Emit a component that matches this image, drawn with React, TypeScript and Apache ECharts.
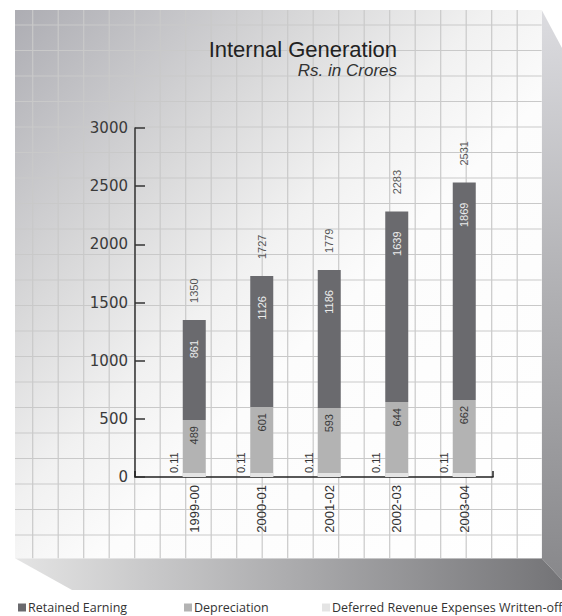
import React, { useEffect, useRef } from 'react';
import * as echarts from 'echarts';

const years = ['1999-00', '2000-01', '2001-02', '2002-03', '2003-04'];
const retainedEarning = [861, 1126, 1186, 1639, 1869];
const depreciation = [489, 601, 593, 644, 662];
const deferredRevenue = [0.11, 0.11, 0.11, 0.11, 0.11];
const totals = [1350, 1727, 1779, 2283, 2531];
const yMin = 0;
const yMax = 3000;
const yInterval = 500;

const SANS = 'Liberation Sans, Arial, sans-serif';

function buildBackground(): any[] {
  const els: any[] = [];
  const px = 15, py = 10, pw = 526.7, ph = 548.3;
  // right side face
  els.push({
    type: 'polygon', silent: true, z: -20,
    shape: { points: [[px + pw, py], [562, 48], [562, 580], [px + pw, py + ph]] },
    style: {
      fill: new echarts.graphic.LinearGradient(0, 0, 0, 1, [
        { offset: 0, color: '#dcdce0' },
        { offset: 0.5, color: '#b0b0b3' },
        { offset: 1, color: '#88888b' },
      ]),
    },
  });
  // bottom face
  els.push({
    type: 'polygon', silent: true, z: -20,
    shape: { points: [[px, py + ph], [px + pw, py + ph], [562, 580], [562, 590], [72, 590]] },
    style: {
      fill: new echarts.graphic.LinearGradient(0, 0, 1, 0, [
        { offset: 0, color: '#e4e4e4' },
        { offset: 0.5, color: '#acacae' },
        { offset: 1, color: '#747477' },
      ]),
    },
  });
  // front panel
  els.push({
    type: 'rect', silent: true, z: -19,
    shape: { x: px, y: py, width: pw, height: ph },
    style: {
      fill: new echarts.graphic.LinearGradient(0, 0, 1, 1, [
        { offset: 0, color: '#adadb3' },
        { offset: 0.28, color: '#d8d8d9' },
        { offset: 0.45, color: '#f1f1f1' },
        { offset: 0.58, color: '#fcfcfc' },
        { offset: 1, color: '#ffffff' },
      ]),
    },
  });
  const lineStyle = { stroke: '#c9c9c9', lineWidth: 1.2 };
  for (let k = 0; k < 20; k++) {
    const x = 32.7 + 25.5 * k;
    els.push({ type: 'line', silent: true, z: -18, shape: { x1: x, y1: py, x2: x, y2: py + ph }, style: lineStyle });
  }
  for (let k = 0; k < 21; k++) {
    const y = 25 + 25.5 * k;
    els.push({ type: 'line', silent: true, z: -18, shape: { x1: px, y1: y, x2: px + pw, y2: y }, style: lineStyle });
  }
  // titles
  els.push({
    type: 'text', z: 10, x: 397, y: 38,
    style: { text: 'Internal Generation', align: 'right', verticalAlign: 'top', fontFamily: SANS, fontSize: 22, lineHeight: 22, fill: '#222' },
  });
  els.push({
    type: 'text', z: 10, x: 397, y: 62,
    style: { text: 'Rs. in Crores', align: 'right', verticalAlign: 'top', fontFamily: SANS, fontSize: 17, lineHeight: 17, fontStyle: 'italic', fill: '#333' },
  });
  return els;
}

export default function App() {
  const ref = useRef<HTMLDivElement>(null);
  useEffect(() => {
    document.body.style.margin = '0';
    if (!ref.current) return;
    const chart = echarts.init(ref.current, null, { renderer: 'svg' });
    const labelFont = { fontFamily: SANS, fontSize: 11 };
    const legendCommon = {
      icon: 'rect', itemWidth: 8, itemHeight: 8, padding: 0, top: 601, selectedMode: false,
      textStyle: { fontFamily: 'Open Sans, sans-serif', fontSize: 12.5, color: '#333', padding: [0, 0, 0, -3] },
    };
    chart.setOption({
      animation: false,
      graphic: buildBackground(),
      legend: [
        { ...legendCommon, left: 18, data: ['Retained Earning'] },
        { ...legendCommon, left: 184, data: ['Depreciation'] },
        { ...legendCommon, left: 322, data: ['Deferred Revenue Expenses Written-off'] },
      ],
      grid: [
        { left: 160.5, top: 128, width: 337.5, height: 349 },
        { left: 135, top: 128, width: 358, height: 349 },
      ],
      xAxis: [
        {
          type: 'category', gridIndex: 0, data: years,
          axisLine: { show: false }, axisTick: { show: false }, splitLine: { show: false },
          axisLabel: { rotate: 90, margin: 8, fontFamily: SANS, fontSize: 13, color: '#333' },
        },
        {
          type: 'value', gridIndex: 1, min: 0, max: 1, interval: 1,
          axisLine: { show: true, lineStyle: { color: '#222', width: 1.5 } },
          axisTick: { show: true, inside: true, length: 6, lineStyle: { color: '#222', width: 1.5 } },
          axisLabel: { show: false }, splitLine: { show: false },
        },
      ],
      yAxis: [
        { type: 'value', gridIndex: 0, min: yMin, max: yMax, interval: yInterval, show: false },
        {
          type: 'value', gridIndex: 1, min: yMin, max: yMax, interval: yInterval,
          axisLine: { show: true, lineStyle: { color: '#333', width: 1.5 } },
          axisTick: { show: true, inside: true, length: 10, lineStyle: { color: '#333', width: 1.5 } },
          axisLabel: { margin: 7, fontFamily: 'DejaVu Sans, sans-serif', fontSize: 15, color: '#3a3a3a', formatter: (v: number) => String(v) },
          splitLine: { show: false },
        },
      ],
      series: [
        {
          name: 'Deferred Revenue Expenses Written-off', type: 'bar', stack: 'total',
          xAxisIndex: 0, yAxisIndex: 0, data: deferredRevenue, barWidth: 23, barMinHeight: 4, z: 4,
          itemStyle: { color: '#e4e4e4' },
          label: { show: true, position: [-9, 0], rotate: 90, align: 'left', verticalAlign: 'middle', color: '#333', ...labelFont },
        },
        {
          name: 'Depreciation', type: 'bar', stack: 'total',
          xAxisIndex: 0, yAxisIndex: 0, data: depreciation, barWidth: 23,
          itemStyle: { color: '#b3b3b3' },
          label: { show: true, position: 'insideTop', distance: 6, rotate: 90, align: 'right', verticalAlign: 'middle', color: '#3a3a3a', ...labelFont },
        },
        {
          name: 'Retained Earning', type: 'bar', stack: 'total',
          xAxisIndex: 0, yAxisIndex: 0, data: retainedEarning, barWidth: 23,
          itemStyle: { color: '#6a6a6e' },
          label: { show: true, position: 'insideTop', distance: 20, rotate: 90, align: 'right', verticalAlign: 'middle', color: '#ececec', ...labelFont },
        },
        {
          name: 'Total', type: 'scatter', xAxisIndex: 0, yAxisIndex: 0, data: totals,
          symbolSize: 0.1, itemStyle: { color: 'rgba(0,0,0,0)' }, silent: true,
          label: { show: true, position: 'top', distance: 17, rotate: 90, align: 'left', verticalAlign: 'middle', color: '#2a2a2a', ...labelFont },
        },
      ],
    });
    return () => chart.dispose();
  }, []);
  return <div ref={ref} style={{ width: 562, height: 616 }} />;
}
